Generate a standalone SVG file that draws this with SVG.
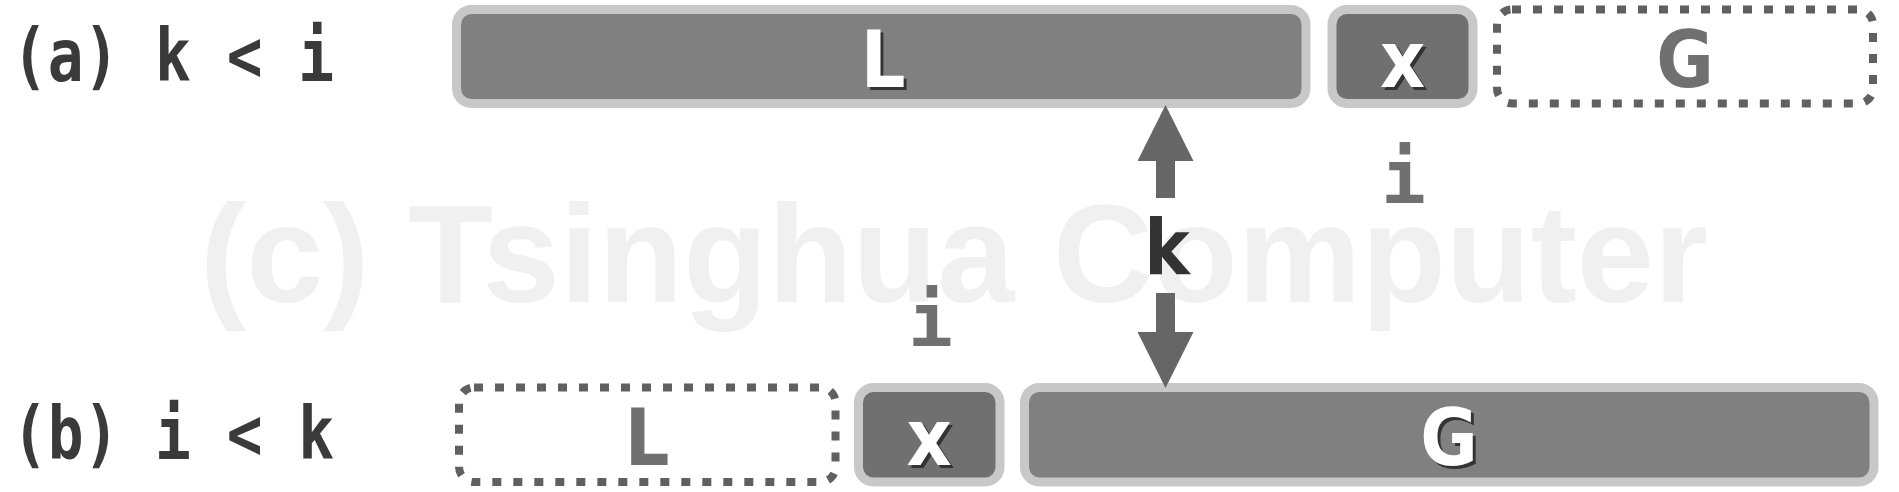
<svg xmlns="http://www.w3.org/2000/svg" width="1899" height="492" viewBox="0 0 1899 492">
<defs>
<style>
.bg{fill:#ffffff}
.wm{font-family:"Liberation Sans",Arial,sans-serif;font-weight:bold;font-size:140px;fill:#f0f0f0}
.row{font-family:"DejaVu Sans Mono","Liberation Mono",monospace;font-weight:bold;font-size:73px;fill:#3a3a3a;white-space:pre}
.solid{fill:#808080;stroke:#c8c8c8;stroke-width:9}
.solidx{fill:#707070;stroke:#c8c8c8;stroke-width:9}
.dash{fill:#ffffff;stroke:#606060;stroke-width:8;stroke-dasharray:9 12}
.lbl{font-family:"DejaVu Sans Condensed","DejaVu Sans","Liberation Sans",sans-serif;font-stretch:condensed;font-weight:bold;font-size:78px;text-anchor:middle}
.w{fill:#ffffff}
.sh{fill:#333333}
.g{fill:#707070}
.idx{font-family:"DejaVu Sans Mono","Liberation Mono",monospace;font-weight:bold;font-size:74px;fill:#707070;text-anchor:middle}
.kl{font-family:"DejaVu Sans Condensed","DejaVu Sans","Liberation Sans",sans-serif;font-stretch:condensed;font-weight:bold;font-size:76px;fill:#333333;text-anchor:middle}
.arr{stroke:#666666;stroke-width:19;fill:none}
</style>
<marker id="head" markerUnits="userSpaceOnUse" markerWidth="56" markerHeight="56" refX="0" refY="28" orient="auto" viewBox="0 0 56 56">
<path d="M0,0 L56,28 L0,56 Z" fill="#666666"/>
</marker>
</defs>
<rect class="bg" x="0" y="0" width="1899" height="492"/>
<text class="wm" x="200" y="302" textLength="1508" lengthAdjust="spacingAndGlyphs">(c) Tsinghua Computer</text>

<g id="label-a"><text class="row" x="12" y="81" textLength="322" lengthAdjust="spacingAndGlyphs">(a) k &lt; i</text></g>
<g id="label-b"><text class="row" x="12" y="459" textLength="322" lengthAdjust="spacingAndGlyphs">(b) i &lt; k</text></g>

<g id="a-L">
<rect class="solid" x="456.5" y="9.5" width="849.5" height="94" rx="15"/>
<text class="lbl sh" x="886" y="90">L</text>
<text class="lbl w" x="883" y="87">L</text>
</g>
<g id="a-x">
<rect class="solidx" x="1332" y="9.5" width="141" height="94" rx="15"/>
<text class="lbl sh" x="1405.5" y="90">x</text>
<text class="lbl w" x="1402.5" y="87">x</text>
</g>
<g id="a-G">
<rect class="dash" x="1497" y="9.5" width="376" height="94" rx="15"/>
<text class="lbl g" x="1685" y="87">G</text>
</g>

<g id="b-L">
<rect class="dash" x="459" y="387.5" width="376.5" height="94.5" rx="15"/>
<text class="lbl g" x="647" y="465">L</text>
</g>
<g id="b-x">
<rect class="solidx" x="858.5" y="387.5" width="141.5" height="94.5" rx="15"/>
<text class="lbl sh" x="932" y="468">x</text>
<text class="lbl w" x="929" y="465">x</text>
</g>
<g id="b-G">
<rect class="solid" x="1024.5" y="387.5" width="849.5" height="94.5" rx="15"/>
<text class="lbl sh" x="1452" y="468">G</text>
<text class="lbl w" x="1449" y="465">G</text>
</g>

<g id="index-i-a"><text class="idx" x="1403.5" y="203">i</text></g>
<g id="index-i-b"><text class="idx" x="930.5" y="346">i</text></g>

<g id="connectors">
<line class="arr" x1="1165.5" y1="198" x2="1165.5" y2="161" marker-end="url(#head)"/>
<line class="arr" x1="1165.5" y1="293" x2="1165.5" y2="332" marker-end="url(#head)"/>
<text class="kl" x="1167" y="274">k</text>
</g>
</svg>
